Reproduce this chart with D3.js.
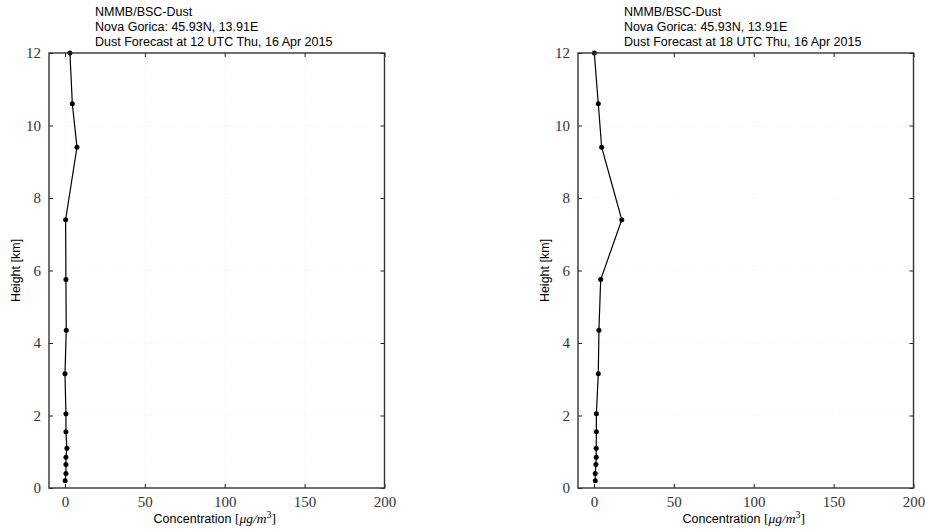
<!DOCTYPE html>
<html>
  <head>
    <meta charset="utf-8" />
    <title>dust profile</title>
    <script src="https://cdn.jsdelivr.net/npm/d3@7"></script>
    <style type="text/css">
      body { margin: 0; background: #fff; }
      .tick text { font-family: "Liberation Serif", serif; font-size: 15px; fill: #333; }
      .ttl { font-family: "Liberation Sans", Arial, sans-serif; font-size: 12.5px; fill: #000; }
      .lab { font-family: "Liberation Sans", Arial, sans-serif; font-size: 12.5px; fill: #000; }
    </style>
  </head>

  <body>
    <svg id="chart" width="925" height="529"></svg>
    <script type="text/javascript">
      // model levels (km) and concentrations (ug/m3)
      var heights = [12.0, 10.6, 9.4, 7.4, 5.75, 4.35, 3.15, 2.05, 1.55, 1.1, 0.85, 0.65, 0.4, 0.2];
      var conc12 = [3.1, 4.6, 7.5, 0.4, 0.6, 0.8, 0.0, 0.6, 0.6, 1.2, 0.6, 0.6, 0.6, 0.1];
      var conc18 = [0.2, 2.7, 4.8, 17.4, 4.2, 3.1, 2.7, 1.5, 1.5, 1.4, 1.4, 1.2, 0.8, 0.8];
      var xTicks = [0, 50, 100, 150, 200];
      var yTicks = [0, 2, 4, 6, 8, 10, 12];
      var titles = [
        ['NMMB/BSC-Dust', 'Nova Gorica: 45.93N, 13.91E', 'Dust Forecast at 12 UTC Thu, 16 Apr 2015'],
        ['NMMB/BSC-Dust', 'Nova Gorica: 45.93N, 13.91E', 'Dust Forecast at 18 UTC Thu, 16 Apr 2015']
      ];

      function draw() {
        var svg = d3.select('#chart');
        var panels = [
          { left: 49, conc: conc12, title: titles[0] },
          { left: 578, conc: conc18, title: titles[1] }
        ];
        var w = 335.5, y0 = 53, h = 435;

        panels.forEach(function (p) {
          var g = svg.append('g').attr('transform', 'translate(' + p.left + ',' + y0 + ')');
          var x = d3.scaleLinear().domain([-10, 200]).range([0, w]);
          var y = d3.scaleLinear().domain([0, 12]).range([h, 0]);

          // faint grid
          g.append('g').selectAll('line').data(yTicks).enter().append('line')
            .attr('x1', 0).attr('x2', w).attr('y1', y).attr('y2', y)
            .attr('stroke', '#f2f2f2').attr('stroke-dasharray', '1,2');
          g.append('g').selectAll('line').data(xTicks).enter().append('line')
            .attr('y1', 0).attr('y2', h).attr('x1', x).attr('x2', x)
            .attr('stroke', '#f2f2f2').attr('stroke-dasharray', '1,2');

          // axes, ticks inward
          var ax = function (a) {
            a.select('.domain').remove();
            a.selectAll('.tick line').attr('stroke', '#222');
          };
          g.append('g').attr('transform', 'translate(0,' + h + ')')
            .call(d3.axisBottom(x).tickValues(xTicks).tickSizeInner(-4).tickSizeOuter(0).tickPadding(8))
            .call(ax);
          g.append('g')
            .call(d3.axisTop(x).tickValues(xTicks).tickSizeInner(-4).tickSizeOuter(0).tickFormat(''))
            .call(ax);
          g.append('g')
            .call(d3.axisLeft(y).tickValues(yTicks).tickSizeInner(-4).tickSizeOuter(0).tickPadding(8))
            .call(ax);
          g.append('g').attr('transform', 'translate(' + w + ',0)')
            .call(d3.axisRight(y).tickValues(yTicks).tickSizeInner(-4).tickSizeOuter(0).tickFormat(''))
            .call(ax);
          g.selectAll('.tick text').attr('font-family', null).attr('font-size', null);

          var pts = heights.map(function (hh, i) { return [p.conc[i], hh]; });
          var line = d3.line().x(function (d) { return x(d[0]); }).y(function (d) { return y(d[1]); });
          g.append('path').attr('d', line(pts)).attr('fill', 'none')
            .attr('stroke', '#000').attr('stroke-width', 1.2);
          g.append('g').selectAll('circle').data(pts).enter().append('circle')
            .attr('cx', function (d) { return x(d[0]); })
            .attr('cy', function (d) { return y(d[1]); })
            .attr('r', 2.5).attr('fill', '#000');

          g.append('rect').attr('width', w).attr('height', h)
            .attr('fill', 'none').attr('stroke', '#333').attr('stroke-width', 1.4);

          // titles
          p.title.forEach(function (t, i) {
            g.append('text').attr('class', 'ttl').attr('x', 46).attr('y', -37 + i * 15).text(t);
          });

          // axis labels
          var xl = g.append('text').attr('class', 'lab').attr('x', w / 2 - 2).attr('y', h + 35)
            .attr('text-anchor', 'middle');
          xl.append('tspan').text('Concentration ');
          var ti = xl.append('tspan').attr('font-family', 'Liberation Serif, serif').attr('font-size', '13.5px');
          ti.append('tspan').text('[');
          ti.append('tspan').attr('font-style', 'italic').text('\u03bcg/m');
          ti.append('tspan').attr('font-size', '10px').attr('dy', -5).text('3');
          ti.append('tspan').attr('dy', 5).text(']');

          g.append('text').attr('class', 'lab')
            .attr('transform', 'translate(-29,' + h / 2 + ') rotate(-90)')
            .attr('text-anchor', 'middle').text('Height [km]');
        });
      }
      draw();
    </script>
  </body>
</html>
